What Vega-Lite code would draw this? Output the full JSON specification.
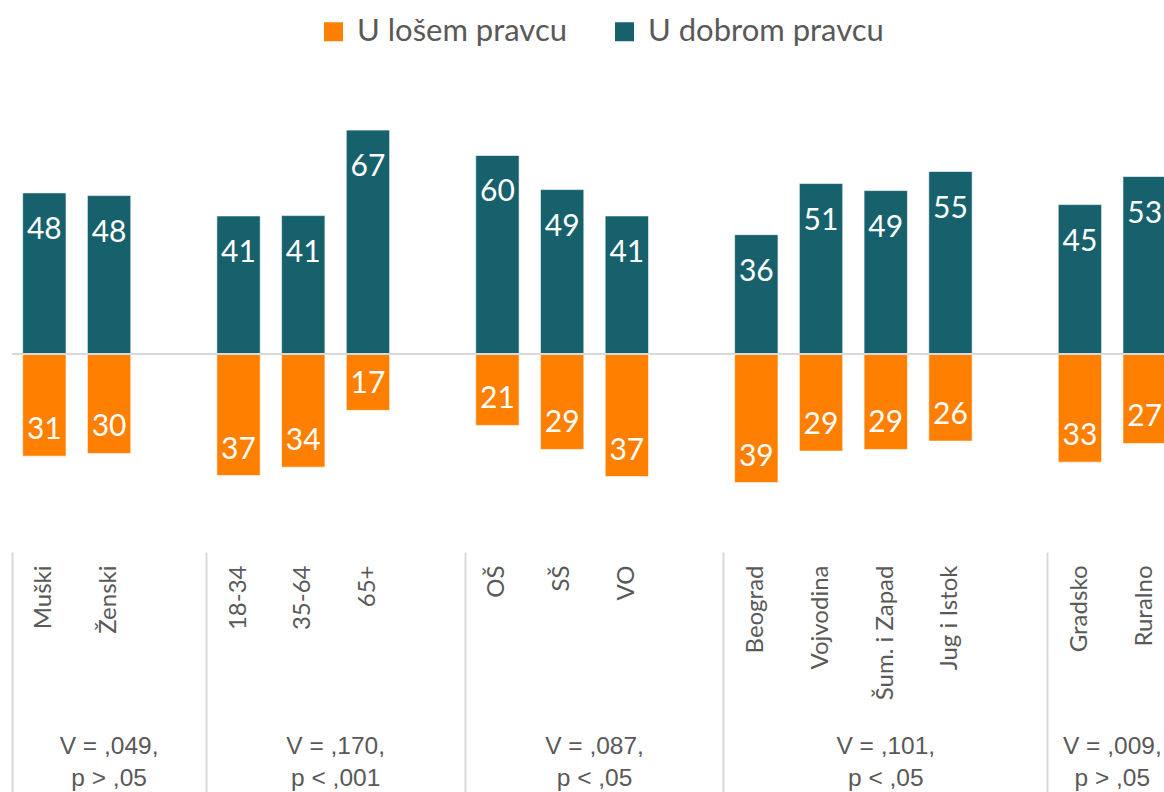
{
  "$schema": "https://vega.github.io/schema/vega-lite/v6.json",
  "autosize": "none",
  "width": 1152,
  "height": 472,
  "padding": {"left": 12, "top": 80, "right": 0, "bottom": 240},
  "background": "white",
  "config": {"view": {"stroke": null}},
  "datasets": {
    "bars": [
      {"cat": "Muški", "series": "U dobrom pravcu", "value": 48.2, "label": 48},
      {"cat": "Muški", "series": "U lošem pravcu", "value": -30.6, "label": 31},
      {"cat": "Ženski", "series": "U dobrom pravcu", "value": 47.4, "label": 48},
      {"cat": "Ženski", "series": "U lošem pravcu", "value": -29.8, "label": 30},
      {"cat": "18-34", "series": "U dobrom pravcu", "value": 41.3, "label": 41},
      {"cat": "18-34", "series": "U lošem pravcu", "value": -36.4, "label": 37},
      {"cat": "35-64", "series": "U dobrom pravcu", "value": 41.4, "label": 41},
      {"cat": "35-64", "series": "U lošem pravcu", "value": -33.9, "label": 34},
      {"cat": "65+", "series": "U dobrom pravcu", "value": 67.0, "label": 67},
      {"cat": "65+", "series": "U lošem pravcu", "value": -16.9, "label": 17},
      {"cat": "OŠ", "series": "U dobrom pravcu", "value": 59.4, "label": 60},
      {"cat": "OŠ", "series": "U lošem pravcu", "value": -21.4, "label": 21},
      {"cat": "SŠ", "series": "U dobrom pravcu", "value": 49.2, "label": 49},
      {"cat": "SŠ", "series": "U lošem pravcu", "value": -28.6, "label": 29},
      {"cat": "VO", "series": "U dobrom pravcu", "value": 41.3, "label": 41},
      {"cat": "VO", "series": "U lošem pravcu", "value": -36.7, "label": 37},
      {"cat": "Beograd", "series": "U dobrom pravcu", "value": 35.7, "label": 36},
      {"cat": "Beograd", "series": "U lošem pravcu", "value": -38.5, "label": 39},
      {"cat": "Vojvodina", "series": "U dobrom pravcu", "value": 51.0, "label": 51},
      {"cat": "Vojvodina", "series": "U lošem pravcu", "value": -29.1, "label": 29},
      {"cat": "Šum. i Zapad", "series": "U dobrom pravcu", "value": 48.9, "label": 49},
      {"cat": "Šum. i Zapad", "series": "U lošem pravcu", "value": -28.6, "label": 29},
      {"cat": "Jug i Istok", "series": "U dobrom pravcu", "value": 54.6, "label": 55},
      {"cat": "Jug i Istok", "series": "U lošem pravcu", "value": -26.1, "label": 26},
      {"cat": "Gradsko", "series": "U dobrom pravcu", "value": 44.7, "label": 45},
      {"cat": "Gradsko", "series": "U lošem pravcu", "value": -32.4, "label": 33},
      {"cat": "Ruralno", "series": "U dobrom pravcu", "value": 53.1, "label": 53},
      {"cat": "Ruralno", "series": "U lošem pravcu", "value": -26.8, "label": 27}
    ],
    "zero": [{"level": 0}]
  },
  "resolve": {"axis": {"x": "independent"}},
  "layer": [
    {
      "data": {"name": "bars"},
      "mark": {"type": "bar", "width": {"band": 0.67}, "stroke": "#ffffff", "strokeWidth": 0.6},
      "encoding": {
        "x": {
          "field": "cat",
          "type": "nominal",
          "scale": {
            "domain": ["Muški", "Ženski", "gap1", "18-34", "35-64", "65+", "gap2", "OŠ", "SŠ", "VO", "gap3", "Beograd", "Vojvodina", "Šum. i Zapad", "Jug i Istok", "gap4", "Gradsko", "Ruralno"],
            "range": [0, 1165],
            "paddingInner": 0,
            "paddingOuter": 0
          },
          "axis": {
            "orient": "bottom",
            "title": null,
            "domain": false,
            "ticks": true,
            "bandPosition": 0,
            "tickSize": 240,
            "tickWidth": 2,
            "tickColor": "#d9d9d9",
            "tickOpacity": {"condition": {"test": "indexof(['Muški', '18-34', 'OŠ', 'Beograd', 'Gradsko'], datum.value) >= 0", "value": 1}, "value": 0},
            "labelAngle": -90,
            "labelAlign": "right",
            "labelBaseline": "middle",
            "labelPadding": -227,
            "labelFont": "Lato",
            "labelFontSize": 24,
            "labelColor": "#595959",
            "labelOverlap": false,
            "labelExpr": "indexof(datum.value, 'gap') == 0 ? '' : datum.label"
          }
        },
        "y": {"field": "value", "type": "quantitative", "scale": {"domain": [-59.3, 82], "nice": false, "zero": false}, "axis": null},
        "color": {
          "field": "series",
          "type": "nominal",
          "scale": {"domain": ["U lošem pravcu", "U dobrom pravcu"], "range": ["#ff8000", "#17616d"]},
          "legend": {
            "title": null,
            "orient": "none",
            "direction": "horizontal",
            "legendX": 306,
            "legendY": -64,
            "symbolType": "square",
            "symbolSize": 361,
            "symbolStrokeWidth": 0,
            "labelFont": "Lato",
            "labelFontSize": 31,
            "labelColor": "#595959",
            "labelOffset": 8,
            "columnPadding": 42,
            "labelLimit": 400
          }
        }
      }
    },
    {
      "data": {"name": "bars"},
      "transform": [{"filter": "datum.series == 'U dobrom pravcu'"}],
      "mark": {"type": "text", "color": "white", "font": "Lato", "fontSize": 30, "baseline": "middle", "align": "center", "dy": 37},
      "encoding": {
        "x": {
          "field": "cat",
          "type": "nominal",
          "axis": {
            "orient": "bottom",
            "title": null,
            "domain": false,
            "ticks": false,
            "values": ["Ženski", "35-64", "SŠ", "Šum. i Zapad", "Gradsko"],
            "labelAngle": 0,
            "labelAlign": "center",
            "labelBaseline": "top",
            "labelPadding": 182,
            "labelFont": "Liberation Sans",
            "labelFontSize": 24.5,
            "labelLineHeight": 32,
            "labelColor": "#595959",
            "labelOverlap": false,
            "labelBound": false,
            "labelFlush": false,
            "labelOffset": {"condition": {"test": "indexof(['35-64', 'SŠ', 'Gradsko'], datum.value) >= 0", "value": 32.4}, "value": 0},
            "labelExpr": "datum.value == 'Ženski' ? ['V = ,049,', 'p > ,05'] : datum.value == '35-64' ? ['V = ,170,', 'p < ,001'] : datum.value == 'SŠ' ? ['V = ,087,', 'p < ,05'] : datum.value == 'Šum. i Zapad' ? ['V = ,101,', 'p < ,05'] : ['V = ,009,', 'p > ,05']"
          }
        },
        "y": {"field": "value", "type": "quantitative"},
        "text": {"field": "label", "type": "quantitative"}
      }
    },
    {
      "data": {"name": "bars"},
      "transform": [{"filter": "datum.series == 'U lošem pravcu'"}],
      "mark": {"type": "text", "color": "white", "font": "Lato", "fontSize": 30, "baseline": "middle", "align": "center", "dy": -26},
      "encoding": {
        "x": {"field": "cat", "type": "nominal", "axis": null},
        "y": {"field": "value", "type": "quantitative"},
        "text": {"field": "label", "type": "quantitative"}
      }
    },
    {
      "data": {"name": "zero"},
      "mark": {"type": "rule", "color": "#d9d9d9", "strokeWidth": 2},
      "encoding": {"y": {"field": "level", "type": "quantitative"}}
    }
  ]
}
